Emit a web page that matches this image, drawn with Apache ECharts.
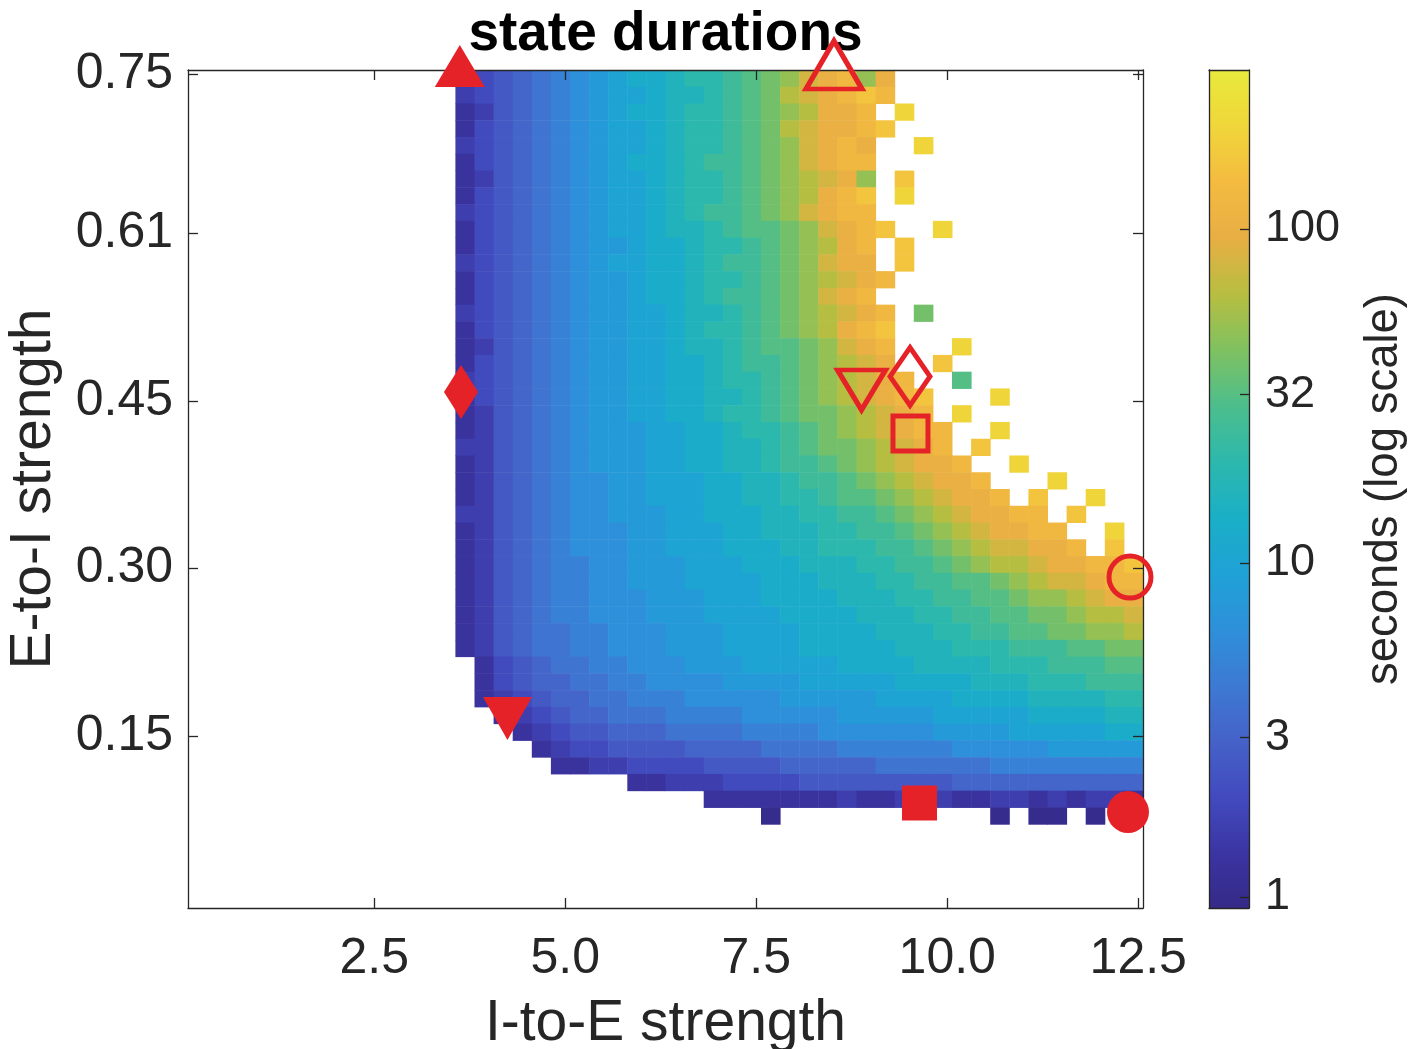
<!DOCTYPE html>
<html>
<head>
<meta charset="utf-8">
<script src="https://cdn.jsdelivr.net/npm/echarts@6/dist/echarts.min.js"></script>
<style>html,body{margin:0;padding:0;background:#fff}#chart{width:1419px;height:1049px}</style>
</head>
<body>
<div id="chart"></div>
<script>
// ---------------- data ----------------
const xTickValues = [2.5, 5.0, 7.5, 10.0, 12.5];
const yTickValues = [0.151515, 0.303030, 0.454545, 0.606061, 0.75];
const cbTickSeconds = [1, 3, 10, 32, 100];
const xRange = [0.0625, 12.5625];
const yRange = [-0.003788, 0.753788];
const cbRange = [-0.033, 2.476];          // log10(seconds)
const cellW = 0.25;
const cellH = 0.0151515;
// heatmap cell centres (coarse 50 x 50 grid)
const xCells = Array.from({length: 50}, (_, c) => 0.1875 + 0.25 * c);
const yCells = Array.from({length: 50}, (_, r) => (2 * r + 0.5) * 0.00757576);
const colOffset = 14;   // first string char = column 14
const topRow = 49;      // first string = top row
// log10(seconds) * 10, encoded 0-9 then A(10) .. O(24); '.' = no value
const heatRows = [
  "13456789"+"ABBCDDEFGHJKL"+"HK",
  "23456789"+"AABCCDEFGIJKL"+"ML",
  "12456789"+"ABBCDDEFGHIKK"+"L.N",
  "13456789"+"AABCDDEFGIJKK"+"LM",
  "23456789"+"AABCDDEFGHJKL"+"K..N",
  "13456789"+"ABBCDEEFGHJKL"+"L",
  "12456789"+"AABCDDEFGHIJK"+"H.M",
  "13456789"+"AABCDDEFGHIKL"+"M.N",
  "23456789"+"AABCDEEFGHJKL"+"L",
  "13456789"+"AABCCDEFFGHJK"+"LM..N",
  "13456789"+"9ABBCDDEFGHIK"+"L.M",
  "23456789"+"AABBCDEEFGHJK"+"K.M",
  "13456789"+"9ABBCDDEFGHIJ"+"KL",
  "13456789"+"9ABBCDEEFGHJK"+"L",
  "23456789"+"9AABCCDEFGHIJ"+"KL.G",
  "13456789"+"9AABCDDEFGHIK"+"LM",
  "12456789"+"9AABCCDEFFGHJ"+"KL...N",
  "13456789"+"9AABBCDEEFGHI"+"JK..M",
  "23456789"+"9AABBCDDEFGHI"+"JKL..F",
  "13456789"+"9AABBCCDEFGHI"+"JKLM...N",
  "12456789"+"9AABBCDDEFGGH"+"IJKL.N",
  "12456789"+"99AABBCDDEFGH"+"IJKLL..N",
  "22456789"+"99AABBCCDEFGG"+"HIJKL.M",
  "12456789"+"99AABBCCDEEFG"+"HIJKKL..N",
  "12456788"+"99AAABBCCDEEF"+"GHIJKKL...N",
  "12456788"+"99AAABBCCDDEF"+"FGHIJKKL.M..N",
  "22456788"+"999AABBBCCDDE"+"EFGHIJKKLL.M",
  "12456788"+"899AAABBCCCDD"+"EEFGHIJKKLL..N",
  "12456788"+"899AAABBBCCDD"+"DEEFGHIJJKKL.M",
  "12456778"+"8999AAABBBCCC"+"DDEEFGHIIJKKLLM",
  "12456778"+"8999AAAABBBCC"+"CDDEEFFGHIJJKLL",
  "12456778"+"88999AAABBBBC"+"CCDDEEFFGHHIJKK",
  "12456778"+"88999AAAABBBB"+"CCCDDEEFFGGHIIJ",
  "12456677"+"888999AAAABBB"+"BCCCDDEEFFGGHHI",
  "12456677"+"888999AAAABBB"+"BBCCCDDDEEEFFGG",
  ".1345667"+"7888999AAAAAB"+"BBBCCCCDDDEEEFF",
  ".1345566"+"7788889999AAA"+"AABBBBCCCDDDEEE",
  ".1234556"+"6777888889999"+"9AAAABBBBCCCCDD",
  "..123455"+"6667777888889"+"9999AAAAABBBBCC",
  "...12344"+"5556666777788"+"88889999AAAAABB",
  "....1233"+"4444555566667"+"777778888899999",
  ".....112"+"2333344445555"+"566666677777777",
  "........"+".112223333444"+"444445555555555",
  "........"+".....11111112"+"112121122121221",
  "........"+"........0...."+".......0.00.0"
];
// red markers (data coordinates)
const markerX = [3.62, 3.636, 4.244, 9.637, 12.366, 8.518, 8.878, 9.513, 9.519, 12.392];
const markerY = [0.7574, 0.4627, 0.1675, 0.0911, 0.0830, 0.7583, 0.4645, 0.4767, 0.4252, 0.2954];
const markerShape = ['up', 'diamond', 'down', 'square', 'circle', 'up', 'down', 'diamond', 'square', 'circle'];
const markerFilled = [true, true, true, true, true, false, false, false, false, false];

// ---------------- styles ----------------
const FONT = '"Liberation Sans", Arial, Helvetica, sans-serif';
const AX = '#262626';
const RED = '#E52228';
const palette = ['#352A87','#3B35A3','#424BBE','#4562C8','#3D7AD3','#2E90DA','#1FA2D6','#1AAFC6',
                 '#2DB8AC','#4DBE8C','#80C160','#B8BE40','#E8AE44','#F4BB40','#F0D63A','#E8EA3C'];
const symbolMap = {up: 'triangle', diamond: 'diamond', down: 'path://M0,0 L10,0 L5,9 Z', square: 'rect', circle: 'circle'};
const sizeFilled = {up: [50, 42], diamond: [34, 54], down: [49, 43], square: [35, 35], circle: [42, 42]};
const sizeOpen = {up: [56, 48], diamond: [40, 58], down: [48, 40], square: [35, 35], circle: [42, 42]};

const heatData = [];
heatRows.forEach((row, k) => {
  const r = topRow - k;
  for (let p = 0; p < row.length; p++) {
    const ch = row[p];
    if (ch === '.') continue;
    heatData.push([xCells[p + colOffset], yCells[r], parseInt(ch, 36) / 10]);
  }
});

const markerData = markerX.map((x, i) => {
  const sh = markerShape[i];
  return {
    value: [x, markerY[i]],
    symbol: symbolMap[sh],
    symbolSize: markerFilled[i] ? sizeFilled[sh] : sizeOpen[sh],
    itemStyle: markerFilled[i]
      ? {color: RED, borderWidth: 0, opacity: 1}
      : {color: 'rgba(0,0,0,0)', borderColor: RED, borderWidth: 5, opacity: 1}
  };
});

const lineStyle = {color: AX, width: 1.3};
const cbTickValues = cbTickSeconds.map(v => Math.log10(v));

const option = {
  animation: false,
  backgroundColor: '#ffffff',
  textStyle: {fontFamily: FONT},
  grid: [
    {left: 188, top: 70, width: 955, height: 838, containLabel: false, outerBoundsMode: 'none'},
    {left: 1209, top: 70, width: 40, height: 838, containLabel: false, outerBoundsMode: 'none'}
  ],
  xAxis: [
    {gridIndex: 0, type: 'value', position: 'bottom', min: xRange[0], max: xRange[1], z: 5,
     axisLine: {show: true, onZero: false, lineStyle},
     axisTick: {show: true, inside: true, length: 10, customValues: xTickValues, lineStyle},
     axisLabel: {show: true, customValues: xTickValues, formatter: v => v.toFixed(1),
                 fontSize: 50, color: AX, margin: 26, fontFamily: FONT},
     splitLine: {show: false},
     name: 'I-to-E strength', nameLocation: 'middle', nameGap: 88,
     nameTextStyle: {fontSize: 57, color: AX, fontFamily: FONT}},
    {gridIndex: 0, type: 'value', position: 'top', min: xRange[0], max: xRange[1], z: 5,
     axisLine: {show: true, onZero: false, lineStyle},
     axisTick: {show: true, inside: true, length: 10, customValues: xTickValues, lineStyle},
     axisLabel: {show: false}, splitLine: {show: false},
     name: 'state durations', nameLocation: 'middle', nameGap: 8,
     nameTextStyle: {fontSize: 55, fontWeight: 'bold', color: '#000', fontFamily: FONT}},
    {gridIndex: 1, type: 'value', position: 'bottom', min: 0, max: 1, z: 5,
     axisLine: {show: true, onZero: false, lineStyle}, axisTick: {show: false},
     axisLabel: {show: false}, splitLine: {show: false}},
    {gridIndex: 1, type: 'value', position: 'top', min: 0, max: 1, z: 5,
     axisLine: {show: true, onZero: false, lineStyle}, axisTick: {show: false},
     axisLabel: {show: false}, splitLine: {show: false}}
  ],
  yAxis: [
    {gridIndex: 0, type: 'value', position: 'left', min: yRange[0], max: yRange[1], z: 5,
     axisLine: {show: true, onZero: false, lineStyle},
     axisTick: {show: true, inside: true, length: 10, customValues: yTickValues, lineStyle},
     axisLabel: {show: true, customValues: yTickValues, formatter: v => v.toFixed(2),
                 fontSize: 50, color: AX, margin: 15, fontFamily: FONT},
     splitLine: {show: false},
     name: 'E-to-I strength', nameLocation: 'middle', nameGap: 125, nameRotate: 90,
     nameTextStyle: {fontSize: 57, color: AX, fontFamily: FONT}},
    {gridIndex: 0, type: 'value', position: 'right', min: yRange[0], max: yRange[1], z: 5,
     axisLine: {show: true, onZero: false, lineStyle},
     axisTick: {show: true, inside: true, length: 10, customValues: yTickValues, lineStyle},
     axisLabel: {show: false}, splitLine: {show: false}},
    {gridIndex: 1, type: 'value', position: 'left', min: cbRange[0], max: cbRange[1], z: 5,
     axisLine: {show: true, onZero: false, lineStyle}, axisTick: {show: false},
     axisLabel: {show: false}, splitLine: {show: false}},
    {gridIndex: 1, type: 'value', position: 'right', min: cbRange[0], max: cbRange[1], z: 5,
     axisLine: {show: true, onZero: false, lineStyle},
     axisTick: {show: true, inside: true, length: 9, customValues: cbTickValues, lineStyle},
     axisLabel: {show: true, customValues: cbTickValues,
                 formatter: v => String(Math.round(Math.pow(10, v))),
                 fontSize: 45, color: AX, margin: 16, fontFamily: FONT},
     splitLine: {show: false},
     name: 'seconds (log scale)', nameLocation: 'middle', nameGap: 112, nameRotate: 90,
     nameTextStyle: {fontSize: 45.5, color: AX, fontFamily: FONT}}
  ],
  visualMap: {
    type: 'continuous', show: false, seriesIndex: 0, dimension: 2,
    min: cbRange[0], max: cbRange[1], inRange: {color: palette}
  },
  series: [
    {
      type: 'custom', xAxisIndex: 0, yAxisIndex: 0, clip: true, z: 2,
      data: heatData,
      renderItem: function (params, api) {
        const x = api.value(0), y = api.value(1);
        const a = api.coord([x - cellW / 2, y + cellH / 2]);
        const b = api.coord([x + cellW / 2, y - cellH / 2]);
        return {type: 'rect',
                shape: {x: a[0], y: a[1], width: b[0] - a[0] + 0.5, height: b[1] - a[1] + 0.5},
                style: {fill: api.visual('color')}};
      }
    },
    {
      type: 'custom', xAxisIndex: 2, yAxisIndex: 2, z: 2, silent: true,
      data: [[0.5, cbRange[0]]],
      renderItem: function (params, api) {
        const a = api.coord([0, cbRange[1]]);
        const b = api.coord([1, cbRange[0]]);
        return {type: 'rect',
                shape: {x: a[0], y: a[1], width: b[0] - a[0], height: b[1] - a[1]},
                style: {fill: {type: 'linear', x: 0, y: 1, x2: 0, y2: 0,
                  colorStops: palette.map((c, i) => ({offset: i / (palette.length - 1), color: c}))}}};
      }
    },
    {
      type: 'scatter', xAxisIndex: 0, yAxisIndex: 0, z: 10, clip: false,
      itemStyle: {opacity: 1},
      data: markerData
    }
  ]
};

const chart = echarts.init(document.getElementById('chart'), null, {renderer: 'canvas'});
chart.setOption(option);
</script>
</body>
</html>
